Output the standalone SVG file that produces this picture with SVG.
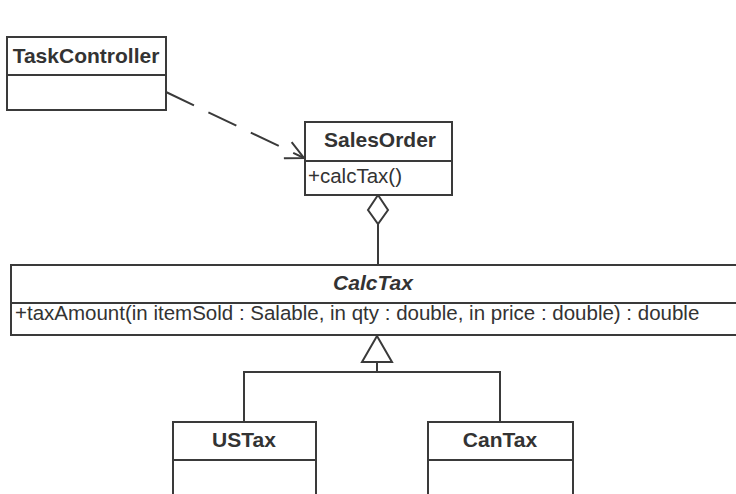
<svg xmlns="http://www.w3.org/2000/svg" width="736" height="494" viewBox="0 0 736 494">
<style>
.box{fill:#fff;stroke:#3a3a3a;stroke-width:2}
.ln{fill:none;stroke:#3a3a3a;stroke-width:2}
.t{font-family:"Liberation Sans",Arial,sans-serif;font-size:21px;font-weight:bold;fill:#333;text-anchor:middle}
.op{font-family:"Liberation Sans",Arial,sans-serif;font-size:20.5px;fill:#333}
</style>
<defs>
<marker id="open" viewBox="0 0 20 20" refX="19" refY="10" markerWidth="20" markerHeight="20" markerUnits="userSpaceOnUse" orient="auto">
<path d="M1,1 L19,10 L1,19" fill="none" stroke="#3a3a3a" stroke-width="2"/>
</marker>
</defs>
<rect width="736" height="494" fill="#fff"/>
<g id="connectors">
<path class="ln" d="M166,92 L304,158" stroke-dasharray="31,16" marker-end="url(#open)"/>
<polygon class="ln" points="378,195 368,210 378,224 388,210" style="fill:#fff"/>
<path class="ln" d="M378,224 V265"/>
<polygon class="ln" points="377,336 362,362 392,362" style="fill:#fff"/>
<path class="ln" d="M377,362 V372 M244,422 V372 H500 V422"/>
</g>
<g id="TaskController">
<rect class="box" x="7" y="37" width="159" height="73"/>
<line class="ln" x1="7" y1="75" x2="166" y2="75"/>
<text class="t" x="86" y="63">TaskController</text>
</g>
<g id="SalesOrder">
<rect class="box" x="305" y="122" width="147" height="73"/>
<line class="ln" x1="305" y1="161" x2="452" y2="161"/>
<text class="t" x="380" y="147">SalesOrder</text>
<text class="op" x="308" y="183">+calcTax()</text>
</g>
<g id="CalcTax">
<rect class="box" x="11" y="265" width="740" height="70"/>
<line class="ln" x1="11" y1="303" x2="740" y2="303"/>
<text class="t" x="373" y="290" font-style="italic">CalcTax</text>
<text class="op" x="15" y="320">+taxAmount(in itemSold : Salable, in qty : double, in price : double) : double</text>
</g>
<g id="USTax">
<rect class="box" x="173" y="422" width="143" height="80"/>
<line class="ln" x1="173" y1="460" x2="316" y2="460"/>
<text class="t" x="244" y="447">USTax</text>
</g>
<g id="CanTax">
<rect class="box" x="428" y="422" width="145" height="80"/>
<line class="ln" x1="428" y1="460" x2="573" y2="460"/>
<text class="t" x="500" y="447">CanTax</text>
</g>
</svg>
